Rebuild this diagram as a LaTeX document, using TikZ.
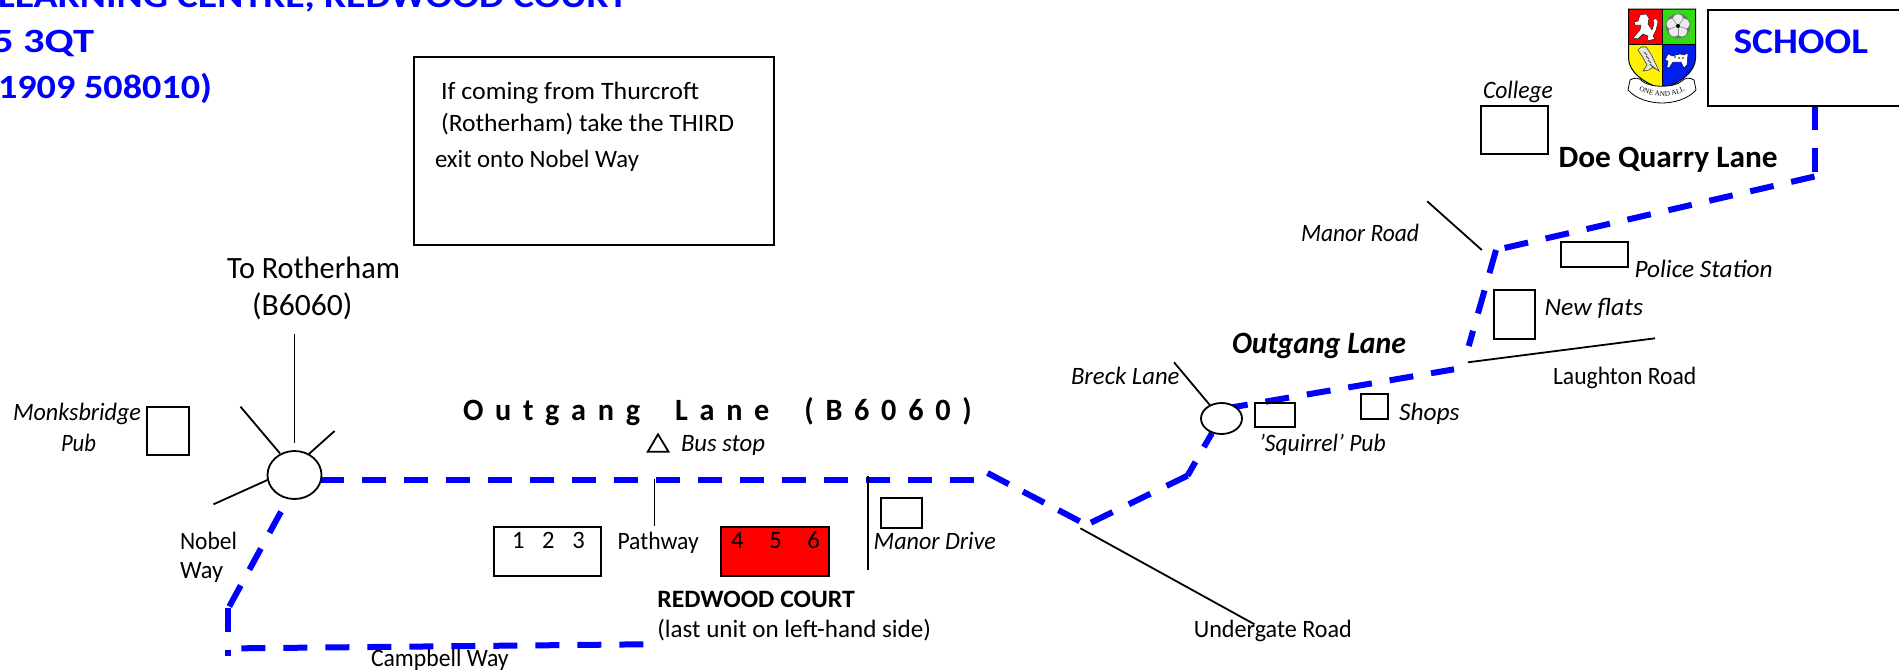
\documentclass[tikz,border=0pt]{standalone}
\usepackage{fontspec}
\usepackage{graphicx}
\setmainfont{Carlito}
\newfontfamily\crestfont{Liberation Serif}
\usetikzlibrary{fit,decorations.text,shapes.geometric}
\definecolor{rdblue}{RGB}{0,0,255}
\definecolor{crestgreen}{RGB}{50,220,20}
\definecolor{crestblue}{RGB}{0,30,235}
\tikzset{
  lab/.style={anchor=base west,inner sep=0pt,outer sep=0pt},
  road/.style={draw=rdblue,line width=3pt,dash pattern=on 12pt off 9pt},
  thinline/.style={draw=black,line width=.9pt},
  box/.style={draw=black,line width=1pt,inner sep=0pt,outer sep=0pt},
  roundabout/.style={draw=black,line width=.9pt,fill=white,ellipse,inner sep=0pt}
}
% \lbl[colour]{name}{x}{baseline}{width in px}{font}{text}
\newcommand{\lbl}[7][black]{\node[lab,text=#1] (#2) at (#3,#4)
  {\resizebox{\dimexpr #5pt/2\relax}{\height}{#6\ignorespaces #7}};}
\newcommand{\fsz}[1]{\fontsize{#1}{#1}\selectfont}
\newcommand{\bx}[6][]{\node[box,#1,fit={(#3,#4)(#5,#6)}] (#2) {};}
\begin{document}
\begin{tikzpicture}[x=0.5pt,y=-0.5pt]
\useasboundingbox (0,0) rectangle (1899,669);
% header
\lbl[rdblue]{h1}{-2}{8}{630}{\fsz{17}\bfseries}{LEARNING CENTRE, REDWOOD COURT}
\lbl[rdblue]{h2}{-8}{53}{102}{\fsz{17}\bfseries}{5 3QT}
\lbl[rdblue]{h3}{-2}{98}{214}{\fsz{17}\bfseries}{1909 508010)}
% instructions
\bx{inst}{414}{57}{774}{245}
\lbl{i1}{441}{99}{258}{\fsz{12.5}}{If coming from Thurcroft}
\lbl{i2}{441}{131}{293}{\fsz{12.5}}{(Rotherham) take the THIRD}
\lbl{i3}{435}{167}{204}{\fsz{12.5}}{exit onto Nobel Way}
% road points
\coordinate (rA1) at (320,480);      \coordinate (rA2) at (974.5,480);
\coordinate (rB1) at (987.5,473);    \coordinate (rB2) at (1083,523);
\coordinate (rC1) at (1091,522.6);   \coordinate (rC2) at (1187.5,475.7); \coordinate (rC3) at (1212,433);
\coordinate (rD1) at (1224,408.7);   \coordinate (rD2) at (1454,369.3);
\coordinate (rE1) at (1496,250);     \coordinate (rE2) at (1468.7,346);
\coordinate (rF1) at (1814.5,106);   \coordinate (rF2) at (1814.5,176.5); \coordinate (rF3) at (1504.4,248);
\coordinate (rG1) at (281,511.7);    \coordinate (rG2) at (229,607);
\coordinate (rH1) at (227.6,608);    \coordinate (rH2) at (227.6,656);
\coordinate (rI1) at (241.3,648.3);  \coordinate (rI2) at (643.6,644.3);
\draw[road] (rA1) -- (rA2);
\draw[road,dash pattern=on 12pt off 8pt] (rB1) -- (rB2);
\draw[road] (rC1) -- (rC2);
\draw[road,dash pattern=on 8pt off 8.5pt] (rC2) -- (rC3);
\draw[road] (rD1) -- (rD2);
\draw[road] (rE1) -- (rE2);
\draw[road] (rF1) -- (rF2);
\draw[road] (rF2) -- (rF3);
\draw[road] (rG1) -- (rG2);
\draw[road] (rH1) -- (rH2);
\draw[road] (rI1) -- (rI2);
% roundabouts and side roads
\coordinate (s1a) at (294.4,334);   \coordinate (s1b) at (294.4,442.7);
\coordinate (s2a) at (240.5,406.7); \coordinate (s2b) at (279.9,453.3);
\coordinate (s3a) at (334.6,431);   \coordinate (s3b) at (308.9,454);
\coordinate (s4a) at (213.5,504.3); \coordinate (s4b) at (267.4,480);
\draw[thinline] (s1a) -- (s1b);
\draw[thinline] (s2a) -- (s2b);
\draw[thinline] (s3a) -- (s3b);
\draw[thinline] (s4a) -- (s4b);
\node[roundabout,minimum width=27pt,minimum height=24pt] (ra1) at (294.5,475) {};
\coordinate (s5a) at (1174,362.3);  \coordinate (s5b) at (1209.8,405);
\draw[thinline] (s5a) -- (s5b);
\node[roundabout,minimum width=20.5pt,minimum height=15.5pt] (ra2) at (1221.5,418.5) {};
\coordinate (s6a) at (1427.2,201.3); \coordinate (s6b) at (1481.8,250);
\draw[thinline] (s6a) -- (s6b);
\coordinate (s7a) at (1467.9,362.3); \coordinate (s7b) at (1655,338.3);
\draw[thinline] (s7a) -- (s7b);
\coordinate (s8a) at (1080.4,528.3); \coordinate (s8b) at (1254.5,624.3);
\draw[thinline] (s8a) -- (s8b);
\coordinate (s9a) at (654.4,479.3);  \coordinate (s9b) at (654.4,526);
\draw[thinline] (s9a) -- (s9b);
\coordinate (s10a) at (868,475.7);   \coordinate (s10b) at (868,570);
\draw[thinline] (s10a) -- (s10b);
% buildings
\bx{monk}{147}{406.7}{188.6}{455}
\bx{units}{494}{527}{601}{575.7}
\bx[fill=red]{red}{720.7}{527}{828.5}{575.7}
\bx{mdrive}{881}{498.3}{921.8}{527.7}
\bx{squir}{1254.5}{402.7}{1294.6}{427.3}
\bx{shops}{1361}{394}{1388.4}{418.7}
\bx{flats}{1494}{290}{1535}{339}
\bx{police}{1561.3}{242.3}{1628}{266.7}
\bx{college}{1481}{106}{1548}{154}
\bx{school}{1707.6}{9.5}{1910}{106}
% bus stop triangle
\coordinate (t1) at (647.8,451.7); \coordinate (t2) at (668.5,451.7); \coordinate (t3) at (658,434.3);
\draw[thinline] (t1) -- (t2) -- (t3) -- cycle;
% labels
\lbl[rdblue]{sch}{1733.5}{54}{134.5}{\fsz{18}\bfseries}{SCHOOL}
\lbl{col}{1483}{98}{70}{\fsz{12.5}\itshape}{College}
\lbl{doe}{1558.6}{167}{219}{\fsz{15.5}\bfseries}{Doe Quarry Lane}
\lbl{mr}{1301}{241.7}{118}{\fsz{12.5}\itshape}{Manor Road}
\lbl{ps}{1634.6}{277.7}{138}{\fsz{12.5}\itshape}{Police Station}
\lbl{nf}{1544.6}{315.7}{98.4}{\fsz{12.5}\itshape}{New flats}
\lbl{ol}{1232}{353}{174}{\fsz{15.5}\bfseries\itshape}{Outgang Lane}
\lbl{bl}{1071}{384.3}{108.5}{\fsz{12.5}\itshape}{Breck Lane}
\lbl{lr}{1553}{384.3}{143.4}{\fsz{12.5}}{Laughton Road}
\lbl{sh}{1399}{420}{60.4}{\fsz{12.5}\itshape}{Shops}
\lbl{sq}{1259}{451.7}{126.7}{\fsz{12.5}\itshape}{'Squirrel' Pub}
\lbl{ug}{1193.8}{637.3}{158}{\fsz{12.5}}{Undergate Road}
\lbl{tr}{227}{278}{173}{\fsz{15.5}}{To Rotherham}
\lbl{b6}{252}{315}{100.4}{\fsz{15.5}}{(B6060)}
\lbl{mb}{13}{420}{128}{\fsz{12.5}\itshape}{Monksbridge}
\lbl{pu}{61}{451.7}{35}{\fsz{12.5}\itshape}{Pub}
\lbl{no}{180}{549}{57}{\fsz{12.5}}{Nobel}
\lbl{wa}{180}{578}{43}{\fsz{12.5}}{Way}
\lbl{cw}{371}{666.7}{137.7}{\fsz{12.5}}{Campbell Way}
\lbl{ou}{463}{420}{508.6}{\fsz{15.5}\bfseries\spaceskip=6pt\relax}{O u t g a n g \ \ L a n e \ \ ( B 6 0 6 0 )}
\lbl{bs}{681}{451.7}{84}{\fsz{12.5}\itshape}{Bus stop}
\lbl{n1}{512}{548}{72.7}{\fsz{12.5}\spaceskip=9pt\relax}{1 2 3}
\lbl{pw}{617.5}{549}{81.3}{\fsz{12.5}}{Pathway}
\lbl{n4}{731}{548}{89}{\fsz{12.5}\spaceskip=13pt\relax}{4 5 6}
\lbl{md}{873.7}{549}{122.3}{\fsz{12.5}\itshape}{Manor Drive}
\lbl{rc}{657.3}{607.7}{197.7}{\fsz{12.5}\bfseries}{REDWOOD COURT}
\lbl{lu}{657.3}{637.3}{273.7}{\fsz{12.5}}{(last unit on left-hand side)}
% crest
\begin{scope}
\path[clip] (1628.5,9) -- (1695.5,9) -- (1695.5,58) .. controls (1695.5,72) and (1680,83) .. (1662,89) .. controls (1644,83) and (1628.5,72) .. (1628.5,58) -- cycle;
\fill[red] (1628,9) rectangle (1662,44);
\fill[crestgreen] (1662,9) rectangle (1696,44);
\fill[yellow] (1628,44) rectangle (1662,90);
\fill[crestblue] (1662,44) rectangle (1696,90);
\draw[line width=.5pt] (1662,9) -- (1662,90);
\draw[line width=.5pt] (1628,44) -- (1696,44);
\end{scope}
\draw[line width=.5pt] (1628.5,9) -- (1695.5,9) -- (1695.5,58) .. controls (1695.5,72) and (1680,83) .. (1662,89) .. controls (1644,83) and (1628.5,72) .. (1628.5,58) -- cycle;
% lion
\fill[white,draw=black,line width=.2pt] (1634,22) -- (1638,21) -- (1640,15) -- (1646,14) -- (1649,18) -- (1648,24) -- (1652,30) -- (1654,24) -- (1653,20) -- (1656,18) -- (1658,22) -- (1656,30) -- (1653,36) -- (1655,39) -- (1647,41) -- (1648,36) -- (1643,34) -- (1638,39) -- (1633,38) -- (1640,30) -- (1641,25) -- (1635,25) -- cycle;
% rose
\fill[black!55] (1678,26) circle[radius=12.5];
\foreach \a in {0,72,144,216,288}{\fill[black!8] (1678,26) ++(\a+90:-6.5) circle[radius=5.4];}
\foreach \a in {36,108,180,252,324}{\draw[black!45,line width=.3pt] (1678,26) -- ++(\a+90:-9);}
\fill[black] (1678,26) circle[radius=2];
% hawk
\fill[black!10,draw=black!75,line width=.3pt] (1638,50) -- (1641,47) -- (1646,47) -- (1651,54) -- (1659,71) -- (1653,67) -- (1649,70) -- (1643,71) -- (1647,65) -- (1642,56) -- cycle;
\foreach \u/\v in {1644/52,1646/56,1648/60,1650/64,1652/66}{\draw[black!70,line width=.4pt] (\u,\v) -- ++(3,3);}
% tiger
\fill[white,draw=black,line width=.2pt] (1665,60) -- (1668,54) -- (1672,56) -- (1680,54) -- (1684,55) -- (1688,53) -- (1687,65) -- (1684,68) -- (1681,62) -- (1673,62) -- (1669,68) -- (1667,67) -- (1668,61) -- cycle;
\foreach \p in {(1675,57),(1679,58),(1683,58)}{\fill[black] \p circle[radius=.8];}
% ribbon
\fill[white,draw=black,line width=.4pt] (1630,80) .. controls (1634,77) and (1640,78) .. (1642,81) .. controls (1650,88) and (1674,88) .. (1682,81) .. controls (1684,78) and (1690,77) .. (1694,80) -- (1696,90) .. controls (1688,99) and (1674,103) .. (1662,103) .. controls (1650,103) and (1636,99) .. (1628,90) -- cycle;
\path[decorate,decoration={text along path,text align=center,text={|\crestfont\fontsize{3.6}{3.6}\selectfont|ONE AND ALL}}] (1636,89) .. controls (1650,98.5) and (1674,98.5) .. (1688,89);
\end{tikzpicture}
\end{document}
